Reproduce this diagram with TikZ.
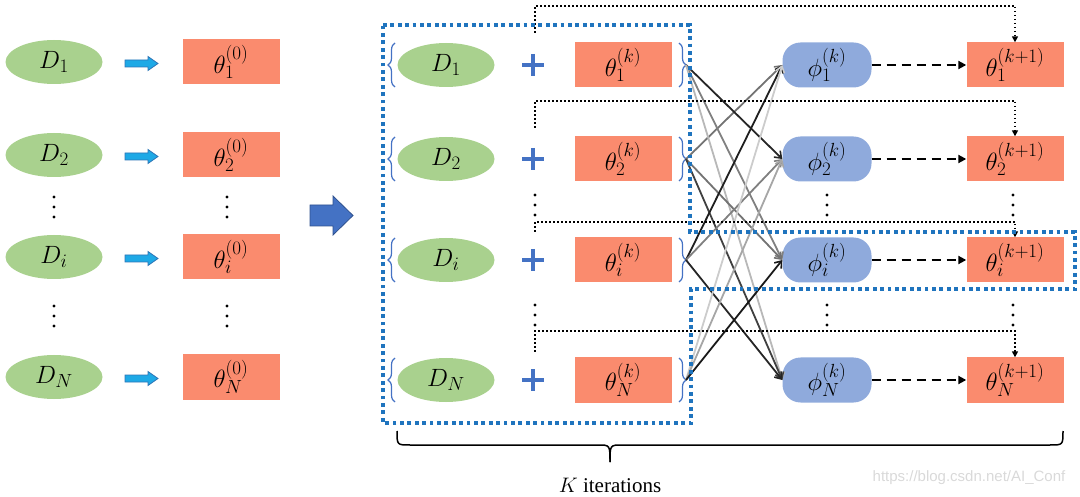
\RequirePackage{fix-cm}
\documentclass[tikz,border=0pt]{standalone}
\usepackage{fontspec}
\setmainfont{Liberation Serif}
\newfontfamily\wmfont{Liberation Sans}
\DeclareMathSizes{25}{25}{19}{15}
\usetikzlibrary{arrows.meta,decorations.pathreplacing,calc,shapes.geometric}
\definecolor{dgreen}{HTML}{A9D18E}
\definecolor{dorange}{HTML}{FA8B6E}
\definecolor{dphi}{HTML}{8FAADC}
\definecolor{dcyan}{HTML}{1EA9E6}
\definecolor{dcyanO}{HTML}{2E75B6}
\definecolor{dblue}{HTML}{4472C4}
\definecolor{dblueO}{HTML}{2F528F}
\definecolor{dbox}{HTML}{1F74BE}
\newcommand\threedots[1]{\fill ($(#1)+(0,-10)$) circle (1.6pt) (#1) circle (1.6pt) ($(#1)+(0,10)$) circle (1.6pt);}
\begin{document}
\begin{tikzpicture}[x=1pt,y=-1pt,
  every node/.style={font=\fontsize{25}{30}\selectfont},
  dnode/.style={ellipse,fill=dgreen,minimum width=97pt,minimum height=44pt,inner sep=0pt},
  tnode/.style={rectangle,fill=dorange,minimum width=97pt,minimum height=45pt,inner sep=0pt},
  pnode/.style={rectangle,rounded corners=18pt,fill=dphi,minimum width=89pt,minimum height=45pt,inner sep=0pt},
  bluebrace/.style={draw=dblue,line width=1.2pt,decorate,decoration={brace,amplitude=7pt}},
  cross/.style={line width=1.8pt,-{Straight Barb[length=6pt,width=9pt,line width=1.6pt]}},
  dashar/.style={line width=2.2pt,dash pattern=on 9pt off 6pt,-{Triangle[length=8pt,width=8pt]}},
  dotar/.style={line width=1.5pt,dash pattern=on 1.5pt off 2.5pt,-{Triangle[length=6pt,width=6pt]}}
]
\useasboundingbox (0,0) rectangle (1080,497);

% ---------- left column ----------
\node[dnode] (L1) at (54,62) {$D_1$};
\node[dnode] (L2) at (54,155) {$D_2$};
\node[dnode] (Li) at (54,257) {$D_i$};
\node[dnode] (LN) at (54,377) {$D_N$};
\node[tnode] (Z1) at (231,62) {$\theta_1^{(0)}$};
\node[tnode] (Z2) at (231,155) {$\theta_2^{(0)}$};
\node[tnode] (Zi) at (231,257) {$\theta_i^{(0)}$};
\node[tnode] (ZN) at (231,377) {$\theta_N^{(0)}$};
\coordinate (ld1) at (54,207); \threedots{ld1}
\coordinate (ld2) at (54,316); \threedots{ld2}
\coordinate (zd1) at (227,207); \threedots{zd1}
\coordinate (zd2) at (227,316); \threedots{zd2}

\foreach \y in {63.5,156.5,258.5,378.5}{
  \filldraw[fill=dcyan,draw=dcyanO,line width=0.8pt]
    (125,\y-3.5) -- (148,\y-3.5) -- (148,\y-7) -- (158,\y) -- (148,\y+7) -- (148,\y+3.5) -- (125,\y+3.5) -- cycle;
}
% big arrow
\filldraw[fill=dblue,draw=dblueO,line width=0.8pt]
  (310,205) -- (333,205) -- (333,196) -- (353,215.5) -- (333,235) -- (333,226) -- (310,226) -- cycle;

% ---------- middle column ----------
\node[dnode] (M1) at (446,65) {$D_1$};
\node[dnode] (M2) at (446,159) {$D_2$};
\node[dnode] (Mi) at (446,260) {$D_i$};
\node[dnode] (MN) at (446,380) {$D_N$};
\node[tnode] (K1) at (623,65) {$\theta_1^{(k)}$};
\node[tnode] (K2) at (623,159) {$\theta_2^{(k)}$};
\node[tnode] (Ki) at (623,260) {$\theta_i^{(k)}$};
\node[tnode] (KN) at (623,380) {$\theta_N^{(k)}$};
\foreach \y in {65,159,260,380}{
  \draw[dblue,line width=4.5pt] (522,\y) -- (544,\y) (533,\y-11) -- (533,\y+11);
  \draw[bluebrace] (395,\y+22) -- (395,\y-22);
  \draw[bluebrace] (679,\y-22) -- (679,\y+22);
}
\coordinate (b1) at (686,65);
\coordinate (b2) at (686,159);
\coordinate (bi) at (686,260);
\coordinate (bN) at (686,380);
\coordinate (md1) at (535,205); \threedots{md1}
\coordinate (md2) at (535,315); \threedots{md2}

% ---------- right column ----------
\node[pnode] (P1) at (827,65) {$\phi_1^{(k)}$};
\node[pnode] (P2) at (827,159) {$\phi_2^{(k)}$};
\node[pnode] (Pi) at (827,260) {$\phi_i^{(k)}$};
\node[pnode] (PN) at (827,380) {$\phi_N^{(k)}$};
\node[tnode] (R1) at (1015,65) {$\theta_1^{(k+1)}$};
\node[tnode] (R2) at (1015,159) {$\theta_2^{(k+1)}$};
\node[tnode] (Ri) at (1015,260) {$\theta_i^{(k+1)}$};
\node[tnode] (RN) at (1015,380) {$\theta_N^{(k+1)}$};
\coordinate (pd1) at (827,205); \threedots{pd1}
\coordinate (pd2) at (827,315); \threedots{pd2}
\coordinate (rd1) at (1013,205); \threedots{rd1}
\coordinate (rd2) at (1013,315); \threedots{rd2}

% crossing arrows
\draw[cross,black!55] (b2) -- (P1.west);
\draw[cross,black!85] (b1) -- (P2.west);
\draw[cross,black!50] (b1) -- (Pi.west);
\draw[cross,black!28] (b1) -- (PN.west);
\draw[cross,black!55] (b2) -- (Pi.west);
\draw[cross,black!75] (b2) -- (PN.west);
\draw[cross,black!88] (bi) -- (P1.west);
\draw[cross,black!50] (bi) -- (P2.west);
\draw[cross,black!85] (bi) -- (PN.west);
\draw[cross,black!20] (bN) -- (P1.west);
\draw[cross,black!35] (bN) -- (P2.west);
\draw[cross,black!90] (bN) -- (Pi.west);

% dashed arrows
\draw[dashar] (P1.east) -- (R1.west);
\draw[dashar] (P2.east) -- (R2.west);
\draw[dashar] (Pi.east) -- (Ri.west);
\draw[dashar] (PN.east) -- (RN.west);

% dotted arrows
\coordinate (s1) at (535,33);
\coordinate (s2) at (535,128);
\coordinate (s3) at (535,232);
\coordinate (s4) at (535,352);
\draw[dotar] (s1) |- (1015,6) -- (R1.north);
\draw[dotar] (s2) |- (1015,101) -- (R2.north);
\draw[dotar] (s3) |- (1015,222) -- (Ri.north);
\draw[dotar] (s4) |- (1015,331) -- (RN.north);

% blue dotted outline
\draw[dbox,line width=3.8pt,dash pattern=on 3.8pt off 3.6pt]
  (383,25) -- (690,25) -- (690,232) -- (1075,232) -- (1075,289) -- (691,289) -- (691,423) -- (383,423) -- cycle;

% bottom brace
\coordinate (bl) at (397,431);
\coordinate (br) at (1063,431);
\coordinate (bt) at (610,462);
\draw[line width=1.5pt] (bl) .. controls (397,445) .. (410,445) -- (598,445) .. controls (610,445) .. (bt);
\draw[line width=1.5pt] (br) .. controls (1063,445) .. (1050,445) -- (622,445) .. controls (610,445) .. (bt);
\node (kit) at (610,485) {\fontsize{21}{25}\selectfont $K$ iterations};

\node[text=black!15] (wm) at (969,478) {\wmfont\fontsize{15}{18}\selectfont https://blog.csdn.net/AI\_Conf};
\end{tikzpicture}
\end{document}
